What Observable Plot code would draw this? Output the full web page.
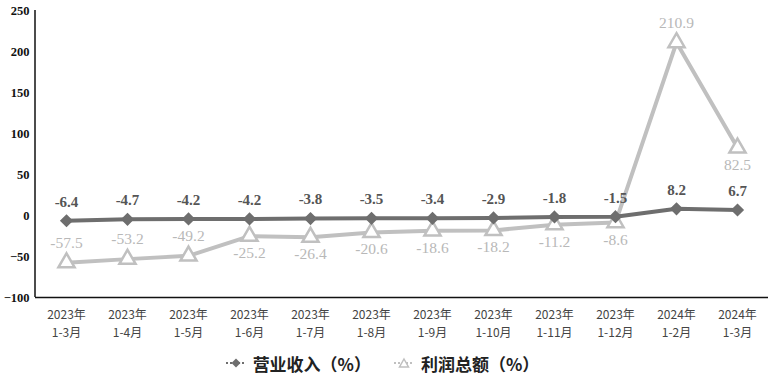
<!DOCTYPE html>
<html><head><meta charset="utf-8">
<script src="https://cdn.jsdelivr.net/npm/d3@7"></script>
<script src="https://cdn.jsdelivr.net/npm/@observablehq/plot@0.6"></script>
<style>
body{margin:0;background:#fff;}
#legend{display:flex;justify-content:center;align-items:center;height:36px;font-family:"Noto Sans CJK SC";font-weight:bold;font-size:17px;color:#222;gap:22px;margin-left:-4px;}
#legend span{display:flex;align-items:center;gap:6px;}
</style>
</head><body>
<div id="chart"></div>
<div id="legend"></div>
<script>
const years = ["2023年","2023年","2023年","2023年","2023年","2023年","2023年","2023年","2023年","2023年","2024年","2024年"];
const periods = ["1-3月","1-4月","1-5月","1-6月","1-7月","1-8月","1-9月","1-10月","1-11月","1-12月","1-2月","1-3月"];
const revenue = [-6.4,-4.7,-4.2,-4.2,-3.8,-3.5,-3.4,-2.9,-1.8,-1.5,8.2,6.7];
const profit = [-57.5,-53.2,-49.2,-25.2,-26.4,-20.6,-18.6,-18.2,-11.2,-8.6,210.9,82.5];
const seriesNames = ["营业收入（%）","利润总额（%）"];
const yTicks = [-100,-50,0,50,100,150,200,250];

const cats = years.map((y,i)=>i);
const labelOf = i => years[i] + "\n" + periods[i];
const rev = revenue.map((v,i)=>({i, v}));
const maxP = d3.max(profit);
const pro = profit.map((v,i)=>({i, v, above: i < 3 || v === maxP}));

const C1 = "#6e6e6e", C2 = "#c0c0c0";
const serif = "Liberation Serif";

const plot = Plot.plot({
  width: 768, height: 345,
  marginLeft: 35, marginRight: 0, marginTop: 10, marginBottom: 48,
  x: {type: "point", domain: cats, padding: 0.5},
  y: {domain: [-100, 250]},
  marks: [
    Plot.axisY({ticks: yTicks, tickSize: 0, tickPadding: 6, fontFamily: serif, fontWeight: "bold", fontSize: 12.5, fill: "#111", label: null}),
    Plot.axisX({tickSize: 0, tickPadding: 9, tickFormat: labelOf, fontFamily: "Noto Sans CJK SC", fontSize: 12, lineHeight: 1.5, fill: "#444", label: null}),
    Plot.ruleY([-100], {stroke: "#111", strokeWidth: 1.5}),
    Plot.line(pro, {x: "i", y: "v", stroke: C2, strokeWidth: 4}),
    Plot.line(rev, {x: "i", y: "v", stroke: C1, strokeWidth: 4}),
    Plot.dot(pro, {x: "i", y: "v", symbol: "triangle", r: 6, stroke: C2, strokeWidth: 2.5, fill: "white"}),
    Plot.dot(rev, {x: "i", y: "v", symbol: "diamond2", r: 5, fill: C1, stroke: C1}),
    Plot.text(rev, {x: "i", y: "v", text: d => d.v.toFixed(1), dy: -19, fill: "#555", fontFamily: serif, fontWeight: "bold", fontSize: 15}),
    Plot.text(pro.filter(d => d.above), {x: "i", y: "v", text: d => d.v.toFixed(1), dy: -20, fill: "#b8b8b8", fontFamily: serif, fontSize: 15.5}),
    Plot.text(pro.filter(d => !d.above), {x: "i", y: "v", text: d => d.v.toFixed(1), dy: 17, fill: "#b8b8b8", fontFamily: serif, fontSize: 15.5}),
  ]
});
// left axis line at the start of the x range
const xr = plot.scale("x").range, yr = plot.scale("y").range;
d3.select(plot).append("line")
  .attr("x1", xr[0]).attr("x2", xr[0]).attr("y1", yr[0]).attr("y2", yr[1])
  .attr("stroke", "#111").attr("stroke-width", 1.5);
document.getElementById("chart").appendChild(plot);

// legend
const lg = d3.select("#legend");
const items = [
  {name: seriesNames[0], color: C1, sym: "diamond"},
  {name: seriesNames[1], color: C2, sym: "triangle"}
];
items.forEach(it => {
  const s = lg.append("span");
  const sv = s.append("svg").attr("width", 22).attr("height", 14);
  sv.append("line").attr("x1", 1).attr("x2", 21).attr("y1", 7).attr("y2", 7)
    .attr("stroke", it.color).attr("stroke-width", 2).attr("stroke-dasharray", "2,2");
  if (it.sym === "diamond") {
    sv.append("path").attr("d", "M11,2.5L15.5,7L11,11.5L6.5,7Z").attr("fill", it.color);
  } else {
    sv.append("path").attr("d", "M11,3L15.5,11L6.5,11Z").attr("fill", "white").attr("stroke", it.color).attr("stroke-width", 1.5);
  }
  s.append("span").text(it.name);
});
</script>
</body></html>
